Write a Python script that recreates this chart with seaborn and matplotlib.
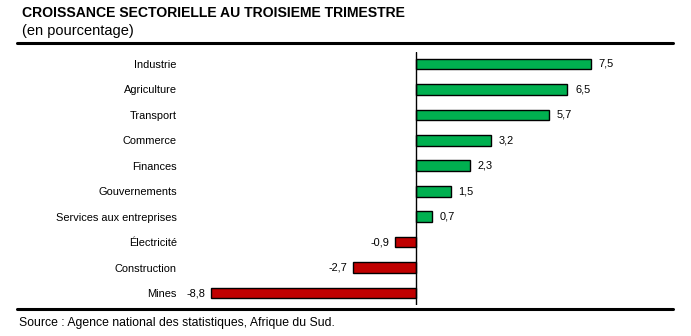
import matplotlib
matplotlib.use("Agg")
import matplotlib.pyplot as plt
from matplotlib.lines import Line2D
import seaborn as sns
import pandas as pd

sectors = ["Industrie", "Agriculture", "Transport", "Commerce", "Finances",
           "Gouvernements", "Services aux entreprises", "Électricité",
           "Construction", "Mines"]
growth = [7.5, 6.5, 5.7, 3.2, 2.3, 1.5, 0.7, -0.9, -2.7, -8.8]
value_labels = ["7,5", "6,5", "5,7", "3,2", "2,3", "1,5", "0,7", "-0,9", "-2,7", "-8,8"]

title = "CROISSANCE SECTORIELLE AU TROISIEME TRIMESTRE"
subtitle = "(en pourcentage)"
source = "Source : Agence national des statistiques, Afrique du Sud."

GREEN = "#00B050"
RED = "#C00000"

sns.set_theme(style="white")
plt.rcParams["font.family"] = ["Liberation Sans", "DejaVu Sans"]
plt.rcParams["text.color"] = "black"
plt.rcParams["ytick.color"] = "black"
plt.rcParams["ytick.labelcolor"] = "black"

df = pd.DataFrame({"sector": sectors, "growth": growth})
df["sign"] = ["pos" if v >= 0 else "neg" for v in growth]

W, H = 691, 336
fig = plt.figure(figsize=(W / 100, H / 100), dpi=100)

# axes placed in pixel coordinates
left_px, right_px, top_px, bottom_px = 190, 640, 52, 305
ax = fig.add_axes([left_px / W, 1 - bottom_px / H,
                   (right_px - left_px) / W, (bottom_px - top_px) / H])

sns.barplot(data=df, x="growth", y="sector", hue="sign",
            palette={"pos": GREEN, "neg": RED}, order=sectors,
            hue_order=["pos", "neg"], dodge=False, legend=False,
            saturation=1, width=0.42, edgecolor="black", linewidth=1.0, ax=ax)

px_per_unit = 23.3
zero_px = 416
ax.set_xlim((left_px - zero_px) / px_per_unit, (right_px - zero_px) / px_per_unit)
n = len(sectors)
ax.set_ylim(n - 1 + 0.47, -0.47)

ax.axvline(0, color="black", lw=1.0)
for s in ax.spines.values():
    s.set_visible(False)
ax.set_xticks([])
ax.set_xlabel("")
ax.set_ylabel("")
ax.tick_params(axis="y", length=0, pad=9.5, labelsize=7.9)

for i, (v, lab) in enumerate(zip(growth, value_labels)):
    if v >= 0:
        ax.annotate(lab, (v, i), xytext=(5.5, 0), textcoords="offset points",
                    ha="left", va="center", fontsize=7.9)
    else:
        ax.annotate(lab, (v, i), xytext=(-4, 0), textcoords="offset points",
                    ha="right", va="center", fontsize=7.9)

fig.text(22 / W, 1 - 13 / H, title, fontsize=10.1, fontweight="bold",
         ha="left", va="center")
fig.text(22 / W, 1 - 31 / H, subtitle, fontsize=10.5, ha="left", va="center")
fig.text(19 / W, 1 - 323 / H, source, fontsize=8.8, ha="left", va="center")

for y in (43, 309):
    fig.add_artist(Line2D([17 / W, 673 / W], [1 - y / H, 1 - y / H],
                          color="black", lw=2.2, transform=fig.transFigure))

fig.savefig("out.png", dpi=100)
